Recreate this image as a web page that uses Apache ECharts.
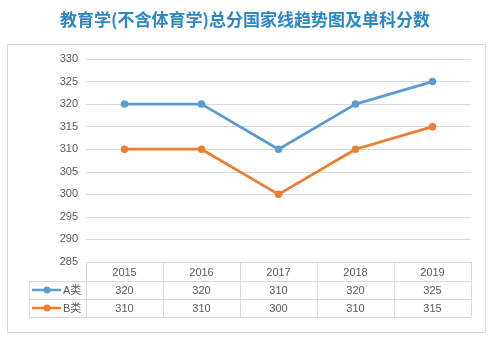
<!DOCTYPE html>
<html><head><meta charset="utf-8">
<script src="https://cdn.jsdelivr.net/npm/echarts@6/dist/echarts.min.js"></script>
<style>html,body{margin:0;padding:0;background:#fff}#c{width:490px;height:339px}</style>
</head><body><div id="c"></div>
<script>
const titleText = '教育学(不含体育学)总分国家线趋势图及单科分数';
const years = ['2015', '2016', '2017', '2018', '2019'];
const seriesNames = ['A类', 'B类'];
const seriesA = [320, 320, 310, 320, 325];
const seriesB = [310, 310, 300, 310, 315];
const yMin = 285, yMax = 330, yInterval = 5;
const colors = ['#5b9bd5', '#ed7d31'];

const textColor = '#595959';
const lineColor = '#d9d9d9';
const font = '"Liberation Sans", "Noto Sans CJK SC", sans-serif';

const chart = echarts.init(document.getElementById('c'), null, {renderer: 'canvas'});
const allSeries = [seriesA, seriesB];

const option = {
  animation: false,
  backgroundColor: '#fff',
  title: {
    text: titleText, left: 'center', top: 6,
    textStyle: {color: '#2b87c4', fontSize: 17, fontWeight: 'bold', fontFamily: '"Noto Sans CJK SC", sans-serif'}
  },
  grid: {left: 86, right: 19, top: 59, bottom: 77},
  xAxis: {
    type: 'category', data: years, boundaryGap: true,
    axisLine: {show: false}, axisTick: {show: false}, axisLabel: {show: false}
  },
  yAxis: {
    type: 'value', min: yMin, max: yMax, interval: yInterval,
    axisLine: {show: false}, axisTick: {show: false},
    axisLabel: {color: textColor, fontSize: 11, fontFamily: font, margin: 8},
    splitLine: {lineStyle: {color: lineColor, width: 1}}
  },
  series: allSeries.map((d, i) => ({
    name: seriesNames[i], type: 'line', data: d,
    symbol: 'circle', symbolSize: 7.5,
    lineStyle: {color: colors[i], width: 2.75},
    itemStyle: {color: colors[i]}
  }))
};
chart.setOption(option);

// Build data table below the plot from axis scales
const c0 = chart.convertToPixel({xAxisIndex: 0}, years[0]);
const c1 = chart.convertToPixel({xAxisIndex: 0}, years[1]);
const bw = c1 - c0;
const tableLeft = c0 - bw / 2;
const tableRight = chart.convertToPixel({xAxisIndex: 0}, years[years.length - 1]) + bw / 2;
const tableTop = chart.convertToPixel({yAxisIndex: 0}, yMin);
const rowH = [19, 18, 18];
const rowY = [tableTop, tableTop + rowH[0], tableTop + rowH[0] + rowH[1], tableTop + rowH[0] + rowH[1] + rowH[2]];
const legendLeft = 29;

const g = [];
const line = (x1, y1, x2, y2) => g.push({type: 'line', shape: {x1, y1, x2, y2}, style: {stroke: lineColor, lineWidth: 1}, silent: true});
// outer border
g.push({type: 'rect', shape: {x: 7.5, y: 44.5, width: 478, height: 288}, style: {fill: null, stroke: lineColor, lineWidth: 1}, silent: true});
// horizontal lines
line(tableLeft, rowY[0] + 0.5, tableRight, rowY[0] + 0.5);
for (let r = 1; r < 4; r++) line(legendLeft, Math.round(rowY[r]) + 0.5, tableRight, Math.round(rowY[r]) + 0.5);
// vertical lines
for (let i = 0; i <= years.length; i++) {
  const x = Math.round(tableLeft + i * bw) + 0.5;
  line(x, rowY[0], x, rowY[3]);
}
line(legendLeft + 0.5, rowY[1], legendLeft + 0.5, rowY[3]);
// header & values
const txt = (x, y, s, align) => g.push({type: 'text', x, y, style: {text: s, fill: textColor, font: '11px ' + font, textAlign: align || 'center', textVerticalAlign: 'middle'}, silent: true});
years.forEach((yr, i) => {
  const cx = chart.convertToPixel({xAxisIndex: 0}, yr);
  txt(cx, (rowY[0] + rowY[1]) / 2 + 1, yr);
  allSeries.forEach((d, s) => txt(cx, (rowY[s + 1] + rowY[s + 2]) / 2 + 1, String(d[i])));
});
// legend keys
seriesNames.forEach((n, s) => {
  const cy = (rowY[s + 1] + rowY[s + 2]) / 2;
  g.push({type: 'line', shape: {x1: 32, y1: cy, x2: 61, y2: cy}, style: {stroke: colors[s], lineWidth: 2.5}, silent: true});
  g.push({type: 'circle', shape: {cx: 47, cy, r: 3.5}, style: {fill: colors[s]}, silent: true});
  g.push({type: 'text', x: 63, y: cy + 1, style: {text: n, fill: textColor, font: '11px ' + font, textAlign: 'left', textVerticalAlign: 'middle'}, silent: true});
});
chart.setOption({graphic: {elements: g}});
</script>
</body></html>
